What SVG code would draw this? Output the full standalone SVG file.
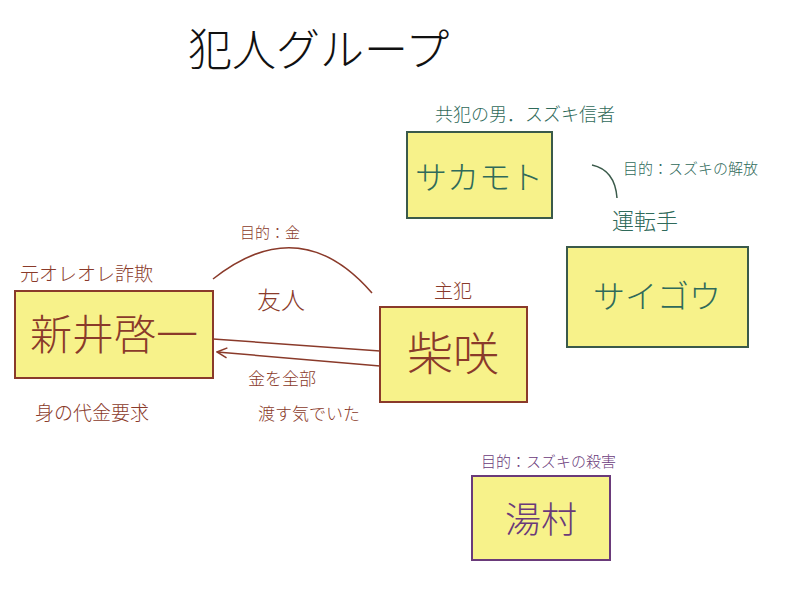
<svg xmlns="http://www.w3.org/2000/svg" width="800" height="592" viewBox="0 0 800 592">
<style>
text{font-family:"Noto Sans CJK JP","Noto Sans CJK SC",sans-serif;font-weight:300}
.b{fill:#f7f28a;stroke-width:2}
.br{stroke:#8a3a2a}.brt{fill:#8a3a2a}
.g{stroke:#3a5a4a}.gt{fill:#2f6a5a}
.p{stroke:#6a3a7a}.pt{fill:#6a3a7a}
.c{fill:none;stroke:#8a3a2a;stroke-width:1.5}
</style>
<defs><marker id="a" markerWidth="12" markerHeight="12" refX="11" refY="6" orient="auto" markerUnits="userSpaceOnUse"><path d="M1,1 L11,6 L1,11" fill="none" stroke="#8a3a2a" stroke-width="1.5"/></marker></defs>
<rect width="800" height="592" fill="#fff"/>
<text x="188" y="66" font-size="44" fill="#111">犯人グループ</text>
<g id="connectors">
<path class="c" d="M213,279 Q300,210 372,293"/>
<line class="c" x1="213" y1="339" x2="380" y2="351"/>
<line class="c" x1="380" y1="366" x2="217" y2="352" marker-end="url(#a)"/>
<path d="M592,165 Q615,170 617,198" fill="none" stroke="#3a5a4a" stroke-width="1.5"/>
</g>
<g id="arai">
<rect class="b br" x="15" y="291" width="198" height="87"/>
<text x="114" y="350" font-size="42" class="brt" text-anchor="middle">新井啓一</text>
<text x="20" y="281" font-size="19" class="brt">元オレオレ詐欺</text>
<text x="35" y="420" font-size="19" class="brt">身の代金要求</text>
</g>
<g id="shibasaki">
<rect class="b br" x="380" y="307" width="147" height="95"/>
<text x="453" y="370" font-size="46" class="brt" text-anchor="middle">柴咲</text>
<text x="453" y="298" font-size="19" class="brt" text-anchor="middle">主犯</text>
</g>
<text x="240" y="238" font-size="15" class="brt">目的：金</text>
<text x="257" y="309" font-size="24" class="brt">友人</text>
<text x="248" y="385" font-size="17" class="brt">金を全部</text>
<text x="258" y="420" font-size="17" class="brt">渡す気でいた</text>
<g id="sakamoto">
<rect class="b g" x="407" y="132" width="145" height="86"/>
<text x="479" y="189" font-size="32" class="gt" text-anchor="middle">サカモト</text>
<text x="435" y="121" font-size="18" class="gt">共犯の男．スズキ信者</text>
</g>
<text x="623" y="174" font-size="15" class="gt">目的：スズキの解放</text>
<g id="saigou">
<rect class="b g" x="567" y="247" width="181" height="100"/>
<text x="657" y="308" font-size="32" class="gt" text-anchor="middle">サイゴウ</text>
<text x="612" y="229" font-size="22" class="gt">運転手</text>
</g>
<g id="yumura">
<rect class="b p" x="472" y="476" width="138" height="84"/>
<text x="541" y="533" font-size="36" class="pt" text-anchor="middle">湯村</text>
<text x="481" y="467" font-size="15" class="pt">目的：スズキの殺害</text>
</g>
</svg>
